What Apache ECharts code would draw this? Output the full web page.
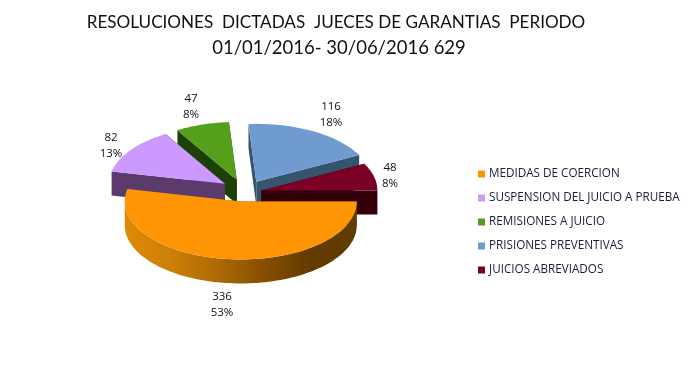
<!DOCTYPE html>
<html><head><meta charset="utf-8">
<style>html,body{margin:0;padding:0;background:#fff}#c{width:691px;height:367px}</style>
<script src="https://cdn.jsdelivr.net/npm/echarts@6/dist/echarts.min.js"></script>
</head><body><div id="c"></div>
<script>
const categories = ['MEDIDAS DE COERCION','SUSPENSION DEL JUICIO A PRUEBA','REMISIONES A JUICIO','PRISIONES PREVENTIVAS','JUICIOS ABREVIADOS'];
const values = [336, 82, 47, 116, 48];
const percentLabels = ['53%','13%','8%','18%','8%'];

// styling and layout, separate from the data
const topColors = ['#ff9505','#cc99ff','#559f1a','#6f9bd0','#7a0026'];
const wallColors = ['#8a5200','#5a3b6c','#1d3f08','#35556f','#330009'];
const drawOrder = [2,3,1,4,0];           // back to front
const labelPos = [[222,305],[111,146],[191,107],[331,115],[390,176]];
const sliceNudge = [[1,1],[0,0],[1,0],[4,1],[-1,3]];
const CX = 242, CY = 190, RX = 116, RY = 58, DEPTH = 24, EXPLODE = 21;
const KY = RY / RX;
const total = values.reduce((a,b)=>a+b,0);
const rad = d => d*Math.PI/180;

function sliceAngles(i){
  let a = 0;
  for(let j=0;j<i;j++) a += values[j]/total*360;
  return [a, a + values[i]/total*360];
}
function arcPts(cx,cy,a0,a1,dy){
  const n = Math.max(2,Math.ceil((a1-a0)/2)), p=[];
  for(let s=0;s<=n;s++){
    const t = rad(a0+(a1-a0)*s/n);
    p.push([cx+RX*Math.cos(t), cy+RY*Math.sin(t)+dy]);
  }
  return p;
}
function renderSlice(i){
  return function(params, api){
    const [a0,a1] = sliceAngles(i);
    const mid = rad((a0+a1)/2);
    const cx = CX + EXPLODE*Math.cos(mid) + sliceNudge[i][0], cy = CY + EXPLODE*KY*Math.sin(mid) + sliceNudge[i][1];
    const kids = [];
    const wall = {fill: wallColors[i]};
    [a0,a1].forEach(a=>{
      const ox = cx+RX*Math.cos(rad(a)), oy = cy+RY*Math.sin(rad(a));
      kids.push({type:'polygon',shape:{points:[[cx,cy],[ox,oy],[ox,oy+DEPTH],[cx,cy+DEPTH]]},style:wall,silent:true});
    });
    const f0 = Math.max(a0,0), f1 = Math.min(a1,180);
    if(f1>f0){
      const pts = arcPts(cx,cy,f0,f1,0).concat(arcPts(cx,cy,f0,f1,DEPTH).reverse());
      const fill = i===0 ? new echarts.graphic.LinearGradient(0,0,1,0,[
        {offset:0,color:'#e08a06'},{offset:.2,color:'#cc7f07'},{offset:.4,color:'#ac6a04'},
        {offset:.6,color:'#854f00'},{offset:.8,color:'#633c00'},{offset:1,color:'#603a00'}]) : wallColors[i];
      kids.push({type:'polygon',shape:{points:pts},style:{fill},silent:true});
    }
    const top = [[cx,cy]].concat(arcPts(cx,cy,a0,a1,0));
    kids.push({type:'polygon',shape:{points:top},style:{fill:topColors[i]},silent:true});
    kids.push({type:'text',silent:true,x:labelPos[i][0],y:labelPos[i][1],style:{
      text:api.value(0)+'\n'+percentLabels[i],fill:'#111',font:'11.5px "Open Sans"',
      align:'center',verticalAlign:'middle',lineHeight:16}});
    return {type:'group',children:kids};
  };
}
const chart = echarts.init(document.getElementById('c'),null,{renderer:'canvas'});
chart.setOption({
  animation:false,
  backgroundColor:'#fff',
  title:{text:'{a|RESOLUCIONES  DICTADAS  JUECES DE GARANTIAS  PERIODO}\n{b|01/01/2016- 30/06/2016 629}',
    left:334,top:4,textAlign:'center',
    textStyle:{fontWeight:'normal',rich:{
      a:{fontFamily:'Lato',fontSize:17.1,fontWeight:'normal',color:'#111',lineHeight:26,padding:[0,6,0,0]},
      b:{fontFamily:'Lato',fontSize:18.5,fontWeight:'normal',color:'#111',lineHeight:26}}}},
  legend:{orient:'vertical',left:473,top:162,itemWidth:7,itemHeight:7,itemGap:10,icon:'rect',
    data:categories,selectedMode:false,
    textStyle:{fontFamily:'Open Sans',fontSize:11.7,color:'#1a1a3a',padding:[0,0,0,-1],height:14,lineHeight:14}},
  series:categories.map((name,i)=>({
    type:'custom',name,coordinateSystem:'none',silent:true,
    z:2+drawOrder.indexOf(i),
    itemStyle:{color:topColors[i]},
    renderItem:renderSlice(i),
    data:[[values[i]]]
  }))
});
</script></body></html>
